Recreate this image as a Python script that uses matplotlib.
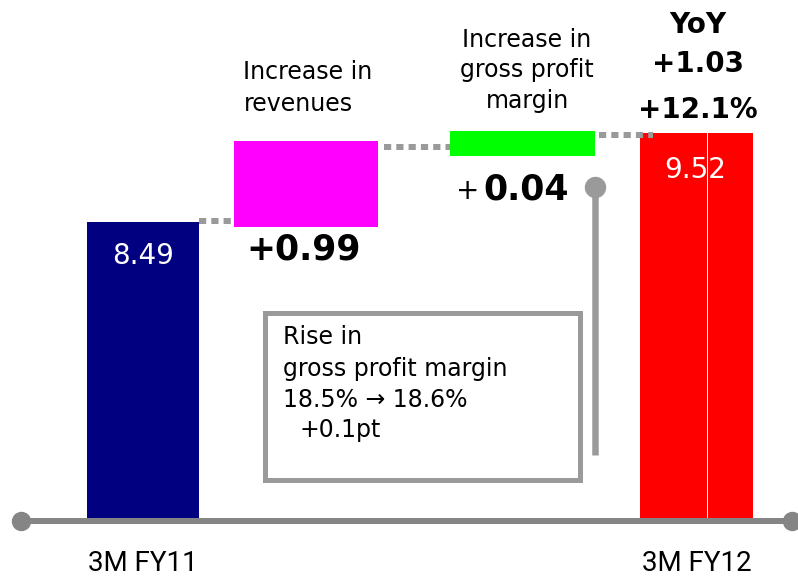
import matplotlib
matplotlib.use("Agg")
import matplotlib.pyplot as plt
from matplotlib.patches import Rectangle

plt.rcParams["font.family"] = ["DejaVu Sans"]

# ---------------- data ----------------
categories = ["3M FY11", "Increase in revenues", "Increase in gross profit margin", "3M FY12"]
axis_labels = ["3M FY11", "", "", "3M FY12"]
start_value = 8.49
revenue_increase = 0.99
margin_increase = 0.04
end_value = 9.52
yoy_change = "+1.03"
yoy_pct = "+12.1%"
# drawn extents of the floating bars (the small step is drawn enlarged)
float_bottom = [8.43, 9.25]
float_top = [8.43 + revenue_increase, 9.54]
connector_levels = [8.50, 9.35, 9.49]
box_lines = ["Rise in", "gross profit margin", "18.5% \u2192 18.6%", "+0.1pt"]

# ---------------- layout ----------------
W, H = 798, 578
PX_PER_UNIT = 86.4
BASE_PX = 521
BASE_VALUE = 5.024
Y_TOP = BASE_VALUE + BASE_PX / PX_PER_UNIT
Y_BOTTOM = BASE_VALUE - (H - BASE_PX) / PX_PER_UNIT

x_pos = [143, 306, 522.5, 696.5]
widths = [112, 144, 145, 113]
colors = ["#000080", "#FF00FF", "#00FF00", "#FF0000"]
GRAY = "#9a9a9a"
PT = 72 / 100.0  # points per pixel at dpi 100

fig = plt.figure(figsize=(W / 100, H / 100), dpi=100)
ax = fig.add_axes([0, 0, 1, 1])
ax.set_xlim(0, W)
ax.set_ylim(Y_BOTTOM, Y_TOP)
ax.axis("off")

# overlay axes in pixel coordinates for annotations
tx = fig.add_axes([0, 0, 1, 1])
tx.set_xlim(0, W)
tx.set_ylim(H, 0)
tx.axis("off")
tx.patch.set_alpha(0)

# bars
bottoms = [BASE_VALUE, float_bottom[0], float_bottom[1], BASE_VALUE]
tops = [start_value, float_top[0], float_top[1], end_value]
heights = [t - b for t, b in zip(tops, bottoms)]
ax.bar(x_pos, heights, bottom=bottoms, width=widths, color=colors, zorder=2)
# thin white seam inside the last bar
ax.plot([707, 707], [BASE_VALUE, end_value], color="white", lw=1.0 * PT, zorder=3)

# dotted connectors
conn_x = [(x_pos[0] + widths[0] / 2, x_pos[1] - widths[1] / 2),
          (x_pos[1] + widths[1] / 2 + 6, x_pos[2] - widths[2] / 2),
          (x_pos[2] + widths[2] / 2 + 4, x_pos[3] - widths[3] / 2 + 13)]
for (xa, xb), lvl in zip(conn_x, connector_levels):
    ax.plot([xa, xb], [lvl, lvl], color=GRAY, lw=6 * PT, linestyle=(0, (1.2, 0.85)),
            solid_capstyle="butt", dash_capstyle="butt", zorder=4)

# baseline with round ends
tx.plot([21, 792], [521, 521], color="#858585", lw=6 * PT, zorder=5, solid_capstyle="butt")
tx.plot([21, 792], [521, 521], linestyle="none", marker="o", ms=18 * PT,
        color="#858585", zorder=5)

# pointer line with ball
tx.plot([595, 595], [187, 455], color=GRAY, lw=6.5 * PT, zorder=5, solid_capstyle="butt")
tx.plot([595], [187], marker="o", ms=20 * PT, color=GRAY, zorder=6)

# note box
tx.add_patch(Rectangle((264.5, 312.5), 315.5, 167, fill=False, edgecolor=GRAY,
                       lw=5 * PT, zorder=5))
box_x = [283, 283, 283, 299]
box_y = [344, 376, 407, 437]
for s, bx, by in zip(box_lines, box_x, box_y):
    tx.text(bx, by, s, fontsize=17, ha="left", va="baseline", color="black")

# bar value labels
tx.text(143, 264, f"{start_value:.2f}", fontsize=20, color="white", ha="center", va="baseline")
tx.text(695, 178, f"{end_value:.2f}", fontsize=20, color="white", ha="center", va="baseline")
tx.text(304, 260, f"+{revenue_increase:.2f}", fontsize=25, fontweight="bold", ha="center",
        va="baseline")
tx.text(483, 199, f"{margin_increase:.2f}", fontsize=25, fontweight="bold", ha="left",
        va="baseline")
tx.text(468, 199, "+", fontsize=20, ha="center", va="baseline")

# category headers
tx.text(243, 79, "Increase in", fontsize=17, ha="left", va="baseline")
tx.text(244, 111, "revenues", fontsize=17, ha="left", va="baseline")
for s, by in zip(["Increase in", "gross profit", "margin"], [47, 77.5, 108]):
    tx.text(527, by, s, fontsize=17, ha="center", va="baseline")

# YoY
tx.text(698, 33, "YoY", fontsize=20, fontweight="bold", ha="center", va="baseline")
tx.text(698, 72, yoy_change, fontsize=20, fontweight="bold", ha="center", va="baseline")
tx.text(698, 118, yoy_pct, fontsize=20, fontweight="bold", ha="center", va="baseline")

# axis labels
for lab, xp in zip(axis_labels, x_pos):
    if lab:
        tx.text(xp, 571, lab, fontsize=20, ha="center", va="baseline", family="Roboto")

fig.savefig("out.png", dpi=100)
